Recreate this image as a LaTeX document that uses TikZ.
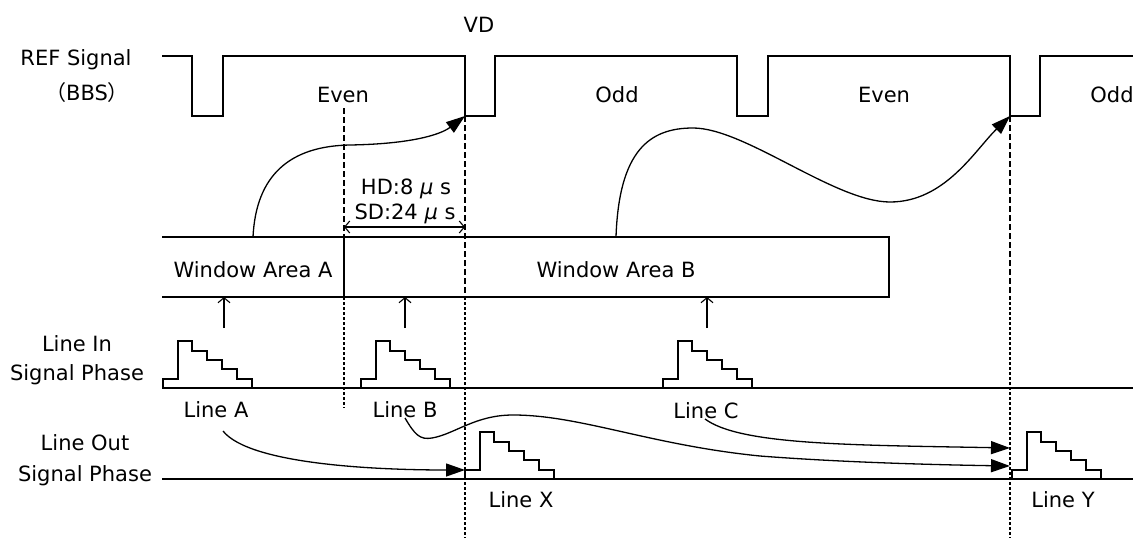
\documentclass[tikz,border=0pt]{standalone}
\usepackage{fontspec}
\setmainfont{DejaVu Sans}
\newfontfamily\cjk{Noto Sans CJK JP}
\usetikzlibrary{arrows.meta}
\begin{document}
\begin{tikzpicture}[x=1pt,y=-1pt,line width=1.3pt,
  lbl/.style={font=\fontsize{21}{25}\selectfont,inner sep=0pt,anchor=base},
  longdash/.style={dash pattern=on 6pt off 3pt,line width=1.1pt},
  shortdash/.style={dash pattern=on 3pt off 2pt,line width=1.1pt},
  bigarrow/.style={-{Triangle[length=19pt,width=13pt]}},
  smallarrow/.style={-{Straight Barb[length=5pt,width=12pt]}},
  wave/.pic={\draw[line width=1.3pt] (0,0) -- (0,-9) -- (15,-9) -- (15,-47) -- (29,-47) -- (29,-37) -- (44,-37) -- (44,-28) -- (59,-28) -- (59,-19) -- (74,-19) -- (74,-9) -- (89,-9) -- (89,0);}]
\useasboundingbox (0,0) rectangle (1137,538);

% labels
\node[lbl] (vd) at (479,32) {VD};
\node[lbl] (ref) at (76,65) {REF Signal};
\node[lbl] (bbs) at (87,100) {{\cjk （}BBS{\cjk ）}};
\node[lbl] (even1) at (343,102) {Even};
\node[lbl] (odd1) at (617,102) {Odd};
\node[lbl] (even2) at (884,102) {Even};
\node[lbl] (odd2) at (1112,102) {Odd};
\node[lbl] (hd) at (406,194) {HD:8 \textit{μ} s};
\node[lbl] (sd) at (405,219) {SD:24 \textit{μ} s};
\node[lbl] (waA) at (253,277) {Window Area A};
\node[lbl] (waB) at (616,277) {Window Area B};
\node[lbl] (lin) at (77,351) {Line In};
\node[lbl] (lin2) at (77,380) {Signal Phase};
\node[lbl] (lout) at (85,450) {Line Out};
\node[lbl] (lout2) at (85,481) {Signal Phase};
\node[lbl] (lineA) at (216,417) {Line A};
\node[lbl] (lineB) at (405,417) {Line B};
\node[lbl] (lineC) at (706,418) {Line C};
\node[lbl] (lineX) at (521,507) {Line X};
\node[lbl] (lineY) at (1063,507) {Line Y};

% REF signal
\draw (162,56) -- (192,56) -- (192,116) -- (223,116) -- (223,56) -- (465,56) -- (465,116) -- (495,116) -- (495,56)
  -- (737,56) -- (737,116) -- (768,116) -- (768,56) -- (1010,56) -- (1010,116) -- (1040,116) -- (1040,56) -- (1133,56);

% dashed verticals
\draw[longdash] (344,108) -- (344,237);
\draw[shortdash] (344,297) -- (344,408);
\draw[longdash] (465,116) -- (465,297);
\draw[shortdash] (465,297) -- (465,538);
\draw[longdash] (1010,116) -- (1010,297);
\draw[shortdash] (1010,297) -- (1010,538);

% window areas
\draw (162,237) -- (889,237) -- (889,297) -- (162,297);
\draw (344,237) -- (344,297);

% dimension
\coordinate (d1) at (344,227);
\coordinate (d2) at (465,227);
\draw[{Straight Barb[length=5pt,width=12pt]}-{Straight Barb[length=5pt,width=12pt]},line width=1.1pt] (d1) -- (d2);

% baselines
\draw (162,388) -- (1133,388);
\draw (162,479) -- (1133,479);

% waveforms
\pic at (163,388) {wave};
\pic at (361,388) {wave};
\pic at (663,388) {wave};
\pic at (465,479) {wave};
\pic at (1012,479) {wave};

% small arrows
\coordinate (sa1) at (224,328); \coordinate (ta1) at (224,297);
\coordinate (sa2) at (405,328); \coordinate (ta2) at (405,297);
\coordinate (sa3) at (707,328); \coordinate (ta3) at (707,297);
\draw[smallarrow,line width=1.1pt] (sa1) -- (ta1);
\draw[smallarrow,line width=1.1pt] (sa2) -- (ta2);
\draw[smallarrow,line width=1.1pt] (sa3) -- (ta3);

% curved arrows
\coordinate (vd1) at (465,116);
\coordinate (vd2) at (1010,116);
\coordinate (wa) at (253,237);
\coordinate (wb) at (616,237);
\draw[bigarrow] (wa) .. controls (256,175) and (290,146) .. (350,145) .. controls (410,144) and (440,135) .. (vd1);
\draw[bigarrow] (wb) .. controls (619,150) and (650,128) .. (693,128) .. controls (745,128) and (835,202) .. (890,202) .. controls (945,202) and (975,150) .. (vd2);

\coordinate (la) at (223,431);
\coordinate (lb) at (405,418);
\coordinate (lc) at (705,419);
\coordinate (x1) at (465,470);
\coordinate (y1) at (1010,448);
\coordinate (y2) at (1010,466);
\draw[bigarrow] (la) .. controls (250,465) and (380,470) .. (x1);
\draw[bigarrow] (lb) .. controls (415,435) and (420,440) .. (432,438) .. controls (455,434) and (475,415) .. (513,415)
  .. controls (580,415) and (650,445) .. (760,456) .. controls (850,463) and (950,465) .. (y2);
\draw[bigarrow] (lc) .. controls (740,445) and (850,445) .. (y1);
\end{tikzpicture}
\end{document}
